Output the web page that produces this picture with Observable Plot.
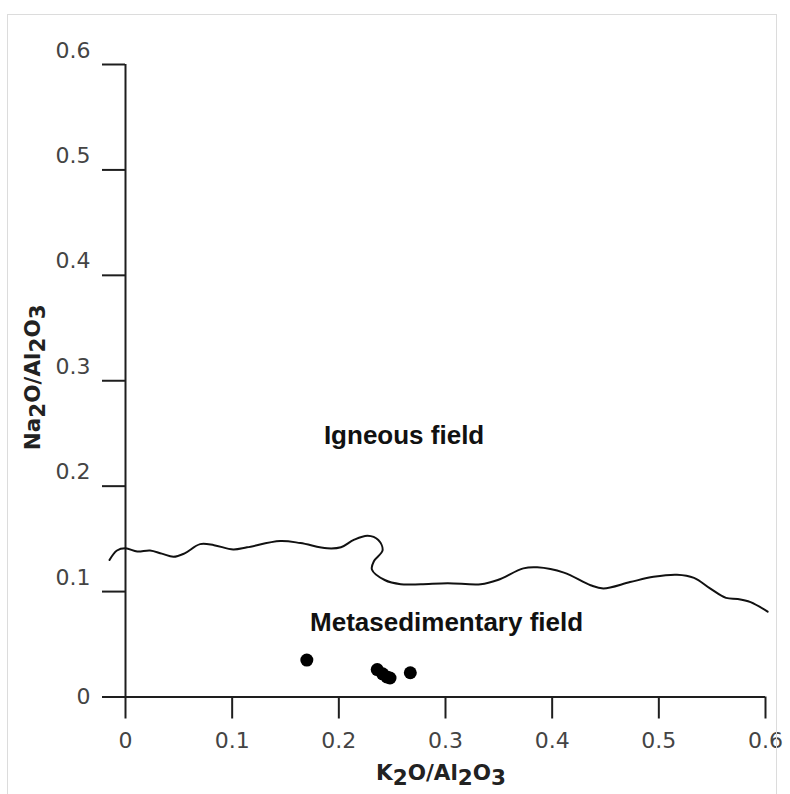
<!DOCTYPE html>
<html>
<head>
<meta charset="utf-8">
<script src="https://cdn.jsdelivr.net/npm/d3@7"></script>
<script src="https://cdn.jsdelivr.net/npm/@observablehq/plot@0.6"></script>
<style>
html, body { margin: 0; padding: 0; background: #fff; }
#wrap { position: relative; width: 790px; height: 794px; overflow: hidden; }
#frame { position: absolute; left: 7px; top: 14px; width: 768px; height: 800px; border: 1px solid #dcdcdc; pointer-events: none; }
svg { display: block; }
</style>
</head>
<body>
<div id="wrap"><div id="chart"></div><div id="frame"></div></div>
<script>
// ---- data ----
const xDomain = [0, 0.6];
const yDomain = [0, 0.6];
const xTicks = [0, 0.1, 0.2, 0.3, 0.4, 0.5, 0.6];
const yTicks = [0, 0.1, 0.2, 0.3, 0.4, 0.5, 0.6];
const xTitle = "K2O/Al2O3";
const yTitle = "Na2O/Al2O3";

// samples (K2O/Al2O3, Na2O/Al2O3)
const sampleK  = [0.170, 0.236, 0.241, 0.245, 0.248, 0.267];
const sampleNa = [0.035, 0.026, 0.022, 0.019, 0.018, 0.023];

// boundary between igneous and metasedimentary fields
const boundaryK  = [-0.015, -0.008, 0.000, 0.011, 0.023, 0.034, 0.045, 0.055, 0.070, 0.083, 0.101, 0.114, 0.145, 0.164, 0.189, 0.202, 0.214, 0.227, 0.237, 0.241, 0.233, 0.231, 0.243, 0.258, 0.277, 0.302, 0.333, 0.349, 0.373, 0.386, 0.411, 0.436, 0.448, 0.473, 0.495, 0.517, 0.533, 0.548, 0.563, 0.574, 0.586, 0.602];
const boundaryNa = [0.130, 0.139, 0.141, 0.138, 0.139, 0.136, 0.133, 0.136, 0.145, 0.144, 0.140, 0.142, 0.148, 0.146, 0.141, 0.142, 0.149, 0.153, 0.149, 0.139, 0.129, 0.121, 0.111, 0.107, 0.107, 0.108, 0.107, 0.111, 0.122, 0.123, 0.118, 0.106, 0.103, 0.109, 0.114, 0.116, 0.113, 0.103, 0.094, 0.093, 0.090, 0.081];

const fieldNames = ["Igneous field", "Metasedimentary field"];
const fieldK  = [0.186, 0.173];
const fieldNa = [0.240, 0.063];

// ---- tables ----
const samples = sampleK.map((k, i) => ({k, na: sampleNa[i]}));
const boundary = boundaryK.map((k, i) => ({k, na: boundaryNa[i]}));
const fields = fieldNames.map((name, i) => ({name, k: fieldK[i], na: fieldNa[i]}));
const fmt = d => String(d);

const tickFont = "DejaVu Sans, Verdana, sans-serif";
const axisColor = "#1e1e1e";

const plot = Plot.plot({
  width: 790,
  height: 794,
  marginLeft: 125,
  marginRight: 25,
  marginTop: 64,
  marginBottom: 97.5,
  x: {domain: xDomain},
  y: {domain: yDomain},
  style: {background: "#fff", overflow: "visible"},
  marks: [
    // axis lines
    Plot.ruleY([yDomain[0]], {x1: xDomain[0], x2: xDomain[1], stroke: axisColor, strokeWidth: 2}),
    Plot.ruleX([xDomain[0]], {y1: yDomain[0], y2: yDomain[1], stroke: axisColor, strokeWidth: 2}),
    // x ticks + labels
    Plot.axisX(xTicks, {tickSize: 22, tickPadding: 13, stroke: axisColor, strokeWidth: 2,
      fill: "#444", fontSize: 22, fontFamily: tickFont, tickFormat: fmt, label: null}),
    // y ticks
    Plot.axisY(yTicks, {tickSize: 23, stroke: axisColor, strokeWidth: 2, tickFormat: () => "", label: null}),
    // y labels (non-zero labels sit above their ticks, as in the reference)
    Plot.text(yTicks.filter(d => d !== 0), {y: d => d, text: fmt, frameAnchor: "left", dx: -35, dy: -14,
      textAnchor: "end", fontSize: 22, fontFamily: tickFont, fill: "#444"}),
    Plot.text(yTicks.filter(d => d === 0), {y: d => d, text: fmt, frameAnchor: "left", dx: -35,
      textAnchor: "end", fontSize: 22, fontFamily: tickFont, fill: "#444"}),
    // boundary curve
    Plot.line(boundary, {x: "k", y: "na", curve: "catmull-rom", stroke: "#111", strokeWidth: 2}),
    // samples
    Plot.dot(samples, {x: "k", y: "na", r: 6.5, fill: "#000", stroke: "none"}),
    // field labels
    Plot.text(fields, {x: "k", y: "na", text: "name", textAnchor: "start", lineAnchor: "bottom",
      fontSize: 26, fontWeight: "bold", fontFamily: "Liberation Sans, Arial, sans-serif", fill: "#111"})
  ]
});

document.getElementById("chart").appendChild(plot);

// ---- axis titles with subscripts ----
const svg = d3.select(plot);
const xr = plot.scale("x").range;
const yr = plot.scale("y").range;

function title(str, x, y, rotate) {
  const t = svg.append("text")
    .attr("text-anchor", "middle")
    .attr("font-family", tickFont)
    .attr("font-weight", "bold")
    .attr("font-size", 21.5)
    .attr("fill", "#222")
    .attr("transform", `translate(${x},${y})` + (rotate ? " rotate(-90)" : ""));
  let sub = false;
  str.split(/(\d)/).filter(s => s.length).forEach(part => {
    const isDigit = /^\d$/.test(part);
    const ts = t.append("tspan").text(part);
    if (isDigit && !sub) { ts.attr("dy", 5); sub = true; }
    else if (!isDigit && sub) { ts.attr("dy", -5); sub = false; }
  });
}
title(xTitle, (xr[0] + xr[1]) / 2 - 4, 780, false);
title(yTitle, 40, (yr[0] + yr[1]) / 2 - 3, true);
</script>
</body>
</html>
